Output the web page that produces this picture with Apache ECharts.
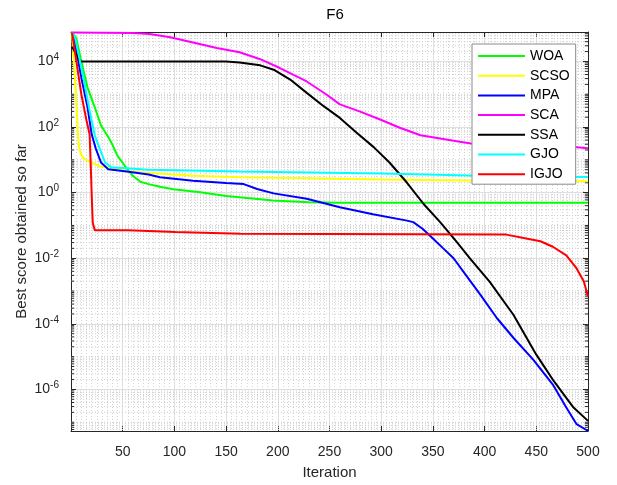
<!DOCTYPE html>
<html>
<head>
<meta charset="utf-8">
<script src="https://cdn.jsdelivr.net/npm/echarts@6/dist/echarts.min.js"></script>
<style>
html, body { margin: 0; padding: 0; background: #fff; }
#chart { width: 617px; height: 485px; }
</style>
</head>
<body>
<div id="chart"></div>
<script>
// Axis ranges
const iterMin = 0, iterMax = 500, iterStep = 50;
const scoreMin = 5.4e-8, scoreMax = 7.9e4;
const scoreTicks = [1e-6, 1e-4, 1e-2, 1, 1e2, 1e4];

const seriesNames = ['WOA', 'SCSO', 'MPA', 'SCA', 'SSA', 'GJO', 'IGJO'];
const seriesColors = ['#00ff00', '#ffff00', '#0000ff', '#ff00ff', '#000000', '#00ffff', '#ff0000'];

// Convergence curves: [iteration, best score]
const woa = [[1,7.6e4],[5,5.2e4],[10,1.0e4],[16,1600],[23,400],[29,112],[36,50],[39,34],[45,13.2],[52,6.6],[60,3.2],[67,2.14],[75,1.82],[86,1.51],[99,1.26],[125,1.02],[150,0.79],[183,0.63],[195,0.58],[230,0.51],[260,0.49],[500,0.49]];
const scso = [[1,7.6e4],[4,2500],[7,45],[8,22],[10,14],[13,10.5],[20,8.3],[28,6.3],[36,5.9],[54,4.5],[75,4.0],[120,3.3],[163,2.95],[300,2.5],[400,2.3],[500,2.24]];
const mpa = [[1,7.6e4],[3,5.0e4],[10,3200],[16,400],[20,60],[24,22],[29,8.3],[36,5.2],[54,4.4],[75,3.55],[86,2.95],[118,2.3],[150,1.95],[167,1.82],[180,1.29],[196,0.95],[228,0.65],[260,0.36],[292,0.22],[325,0.14],[331,0.126],[340,0.079],[350,0.04],[360,0.02],[370,0.01],[383,2.75e-3],[396,7.6e-4],[412,1.48e-4],[428,3.7e-5],[447,8.1e-6],[466,1.41e-6],[479,2.8e-7],[489,8.7e-8],[500,5.4e-8]];
const sca = [[1,7.6e4],[60,7.4e4],[76,6.9e4],[96,5.5e4],[118,3.8e4],[141,2.57e4],[163,1.9e4],[183,1.17e4],[202,6300],[228,2450],[247,980],[260,490],[279,300],[299,170],[318,95],[338,56],[357,45],[376,35.5],[387,31.6],[489,24],[500,22.4]];
const ssa = [[1,2.8e4],[9,1.0e4],[150,1.0e4],[163,9300],[183,7600],[196,5600],[212,2800],[228,1100],[244,440],[260,190],[276,68],[293,24],[308,8.3],[325,2.0],[341,0.45],[357,0.126],[373,0.0316],[386,9.8e-3],[405,1.9e-3],[428,1.86e-4],[450,1.15e-5],[467,1.78e-6],[486,2.8e-7],[500,1.1e-7]];
const gjo = [[1,7.6e4],[4,5.2e4],[12,3200],[18,316],[23,56],[28,21],[33,8.3],[39,5.9],[75,5.0],[163,4.4],[300,3.8],[396,3.3],[500,3.0]];
const igjo = [[1,7.6e4],[10,1000],[15,158],[18,60],[19,8.3],[20,0.9],[21,0.12],[23,0.071],[55,0.071],[56,0.063],[101,0.063],[102,0.056],[164,0.056],[165,0.0525],[421,0.0525],[444,0.038],[454,0.033],[466,0.0224],[479,0.0123],[489,4.9e-3],[496,1.95e-3],[500,6.8e-4]];

const curves = [woa, scso, mpa, sca, ssa, gjo, igjo];

// Log-axis minor grid values: 1..9 x 10^d, skipping the labelled even decades
const minorValues = [];
for (let d = -8; d <= 4; d++) {
  for (let k = 1; k <= 9; k++) {
    if (k === 1 && d % 2 === 0) continue;
    const v = k * Math.pow(10, d);
    if (v > scoreMin && v < scoreMax) minorValues.push([iterMin, v]);
  }
}

const FONT = '"Liberation Sans", Arial, Helvetica, sans-serif';
const AX = '#262626';
const chart = echarts.init(document.getElementById('chart'), null, { renderer: 'canvas' });

const lineSeries = curves.map((d, i) => ({
  name: seriesNames[i],
  type: 'line',
  data: d,
  xAxisIndex: 0,
  yAxisIndex: 0,
  symbol: 'none',
  showSymbol: false,
  smooth: false,
  clip: true,
  z: 3,
  color: seriesColors[i],
  lineStyle: { color: seriesColors[i], width: 2 },
  emphasis: { disabled: true },
  animation: false
}));

const minorGrid = {
  type: 'custom',
  xAxisIndex: 0,
  yAxisIndex: 0,
  silent: true,
  z: 1,
  animation: false,
  data: minorValues,
  renderItem: function (params, api) {
    const v = api.value(1);
    const a = api.coord([iterMin, v]);
    const b = api.coord([iterMax, v]);
    return {
      type: 'group',
      children: [
        { type: 'line', shape: { x1: a[0], y1: a[1], x2: b[0], y2: b[1] },
          style: { stroke: '#cfcfcf', lineWidth: 1, lineDash: [1, 2] } },
        { type: 'line', shape: { x1: a[0], y1: a[1], x2: a[0] + 3, y2: a[1] },
          style: { stroke: AX, lineWidth: 1 } },
        { type: 'line', shape: { x1: b[0] - 3, y1: b[1], x2: b[0], y2: b[1] },
          style: { stroke: AX, lineWidth: 1 } }
      ]
    };
  }
};

const option = {
  backgroundColor: '#ffffff',
  animation: false,
  title: {
    text: 'F6',
    left: 330,
    top: 2,
    textAlign: 'center',
    textStyle: { fontFamily: FONT, fontSize: 15, fontWeight: 'normal', color: '#000' }
  },
  grid: { left: 71, right: 29, top: 32, bottom: 52, containLabel: false },
  legend: {
    data: seriesNames,
    orient: 'vertical',
    left: 472,
    top: 44,
    itemWidth: 47,
    itemHeight: 14,
    itemGap: 5.7,
    padding: [5, 6, 3, 5],
    backgroundColor: '#ffffff',
    borderColor: '#8a8a8a',
    borderWidth: 1,
    itemStyle: { opacity: 0 },
    textStyle: { fontFamily: FONT, fontSize: 14, color: '#000' },
    selectedMode: false
  },
  xAxis: [
    {
      type: 'value', min: iterMin, max: iterMax, interval: iterStep, position: 'bottom',
      name: 'Iteration', nameLocation: 'middle', nameGap: 34, nameMoveOverlap: false,
      nameTextStyle: { fontFamily: FONT, fontSize: 15, color: AX },
      axisLine: { show: true, onZero: false, lineStyle: { color: AX, width: 1 } },
      axisTick: { show: true, inside: true, length: 5, lineStyle: { color: AX } },
      axisLabel: { show: true, showMinLabel: false, margin: 14, fontFamily: FONT, fontSize: 14, color: AX },
      splitLine: { show: true, lineStyle: { color: '#dfdfdf', width: 1 } },
      minorTick: { show: false, splitNumber: 10 },
      minorSplitLine: { show: true, lineStyle: { color: '#d4d4d4', width: 1, type: [1, 2] } }
    },
    {
      type: 'value', min: iterMin, max: iterMax, interval: iterStep, position: 'top',
      axisLine: { show: true, onZero: false, lineStyle: { color: AX, width: 1 } },
      axisTick: { show: true, inside: true, length: 5, lineStyle: { color: AX } },
      axisLabel: { show: false },
      splitLine: { show: false }
    }
  ],
  yAxis: [
    {
      type: 'log', logBase: 10, min: scoreMin, max: scoreMax, position: 'left',
      name: 'Best score obtained so far', nameLocation: 'middle', nameGap: 42, nameMoveOverlap: false,
      nameTextStyle: { fontFamily: FONT, fontSize: 15, color: AX },
      axisLine: { show: true, onZero: false, lineStyle: { color: AX, width: 1 } },
      axisTick: { show: true, inside: true, length: 5, customValues: scoreTicks, lineStyle: { color: AX } },
      axisLabel: {
        show: true, margin: 12, customValues: scoreTicks,
        formatter: function (v) {
          const e = Math.round(Math.log10(v));
          return '{b|10}{e|' + e + '}';
        },
        rich: {
          b: { fontFamily: FONT, fontSize: 14, color: AX, lineHeight: 18 },
          e: { fontFamily: FONT, fontSize: 10, color: AX, lineHeight: 10, verticalAlign: 'top' }
        }
      },
      splitLine: { show: true, lineStyle: { color: '#dfdfdf', width: 1 } }
    },
    {
      type: 'log', logBase: 10, min: scoreMin, max: scoreMax, position: 'right',
      axisLine: { show: true, onZero: false, lineStyle: { color: AX, width: 1 } },
      axisTick: { show: true, inside: true, length: 5, customValues: scoreTicks, lineStyle: { color: AX } },
      axisLabel: { show: false },
      splitLine: { show: false }
    }
  ],
  series: [minorGrid].concat(lineSeries)
};

chart.setOption(option);
</script>
</body>
</html>
